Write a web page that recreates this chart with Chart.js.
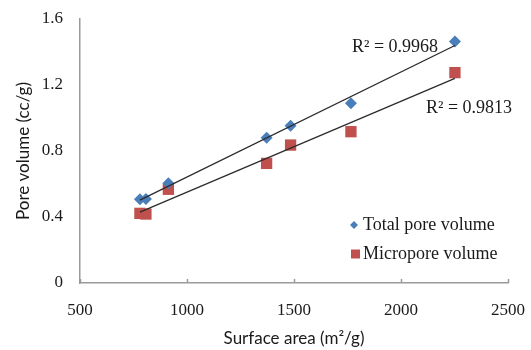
<!DOCTYPE html>
<html><head><meta charset="utf-8">
<script src="https://cdn.jsdelivr.net/npm/chart.js@4/dist/chart.umd.min.js"></script>
<style>html,body{margin:0;padding:0;background:#fff;} #wrap{width:531px;height:350px;position:relative}</style>
</head><body><div id="wrap"><canvas id="c" width="531" height="350"></canvas></div>
<script>
const surfaceArea = [780, 808, 913, 1372, 1484, 1766, 2252];
const totalPoreVolume = [0.507, 0.509, 0.604, 0.881, 0.953, 1.089, 1.463];
const microporeVolume = [0.422, 0.418, 0.568, 0.725, 0.836, 0.917, 1.275];
const seriesNames = ['Total pore volume', 'Micropore volume'];
const r2Labels = ['R\u00B2 = 0.9968', 'R\u00B2 = 0.9813'];
const xTickLabels = ['500', '1000', '1500', '2000', '2500'];
const yTickLabels = ['0', '0.4', '0.8', '1.2', '1.6'];
const xTitle = 'Surface area (m\u00B2/g)';
const yTitle = 'Pore volume (cc/g)';

const BLUE = '#4a7ebb';
const RED = '#c0504d';

function pts(xs, ys) { return xs.map((x, i) => ({ x: x, y: ys[i] })); }
function trend(xs, ys) {
  const n = xs.length;
  const mx = xs.reduce((a, b) => a + b, 0) / n;
  const my = ys.reduce((a, b) => a + b, 0) / n;
  let sxy = 0, sxx = 0;
  for (let i = 0; i < n; i++) { sxy += (xs[i] - mx) * (ys[i] - my); sxx += (xs[i] - mx) ** 2; }
  const b = sxy / sxx, a = my - b * mx;
  const x0 = Math.min(...xs), x1 = Math.max(...xs);
  return [{ x: x0, y: a + b * x0 }, { x: x1, y: a + b * x1 }];
}

const serif = 'Liberation Serif, Times New Roman, serif';
const sans = 'Lato, Carlito, sans-serif';

const overlay = {
  id: 'overlay',
  afterDraw(chart) {
    const ctx = chart.ctx, ca = chart.chartArea, xs = chart.scales.x;
    ctx.save();
    // inward x tick marks
    ctx.strokeStyle = '#9a9a9a'; ctx.lineWidth = 1.5;
    xs.ticks.forEach(t => {
      const px = Math.round(xs.getPixelForValue(t.value)) + 0.5;
      ctx.beginPath(); ctx.moveTo(px, ca.bottom); ctx.lineTo(px, ca.bottom - 4); ctx.stroke();
    });
    // R² labels
    ctx.fillStyle = '#1a1a1a';
    ctx.font = '18px ' + serif;
    ctx.textBaseline = 'middle'; ctx.textAlign = 'left';
    ctx.fillText(r2Labels[0], ca.left + 272, ca.top + 28);
    ctx.fillText(r2Labels[1], ca.left + 346, ca.top + 89);
    // legend
    const lx = ca.right - 154, ly1 = ca.top + 206, ly2 = ca.top + 235;
    ctx.fillStyle = BLUE;
    ctx.beginPath(); ctx.moveTo(lx - 4, ly1); ctx.lineTo(lx, ly1 - 4); ctx.lineTo(lx + 4, ly1); ctx.lineTo(lx, ly1 + 4); ctx.closePath(); ctx.fill();
    ctx.fillStyle = RED;
    ctx.fillRect(lx - 3, ly2 - 4.5, 9, 9);
    ctx.fillStyle = '#1a1a1a';
    ctx.fillText(seriesNames[0], lx + 9, ly1);
    ctx.fillText(seriesNames[1], lx + 9, ly2);
    ctx.restore();
  }
};

new Chart(document.getElementById('c'), {
  type: 'scatter',
  data: {
    datasets: [
      { label: 'trend1', data: trend(surfaceArea, totalPoreVolume), showLine: true, borderColor: '#2b2b2b', borderWidth: 1.3, pointRadius: 0, fill: false },
      { label: 'trend2', data: trend(surfaceArea, microporeVolume), showLine: true, borderColor: '#2b2b2b', borderWidth: 1.3, pointRadius: 0, fill: false },
      { label: seriesNames[0], data: pts(surfaceArea, totalPoreVolume), pointStyle: 'rectRot', pointRadius: 6, backgroundColor: BLUE, borderColor: BLUE, borderWidth: 0 },
      { label: seriesNames[1], data: pts(surfaceArea, microporeVolume), pointStyle: 'rect', pointRadius: 8, backgroundColor: RED, borderColor: RED, borderWidth: 0 }
    ]
  },
  options: {
    responsive: false, animation: false,
    layout: { padding: { left: 0, top: 19, right: 23, bottom: 0 } },
    plugins: { legend: { display: false }, tooltip: { enabled: false } },
    scales: {
      x: {
        type: 'linear', min: 500, max: 2500,
        afterBuildTicks: s => { s.ticks = xTickLabels.map(v => ({ value: +v })); },
        afterFit: s => { s.height = 67; s.paddingLeft = 0; s.paddingRight = 0; },
        ticks: { callback: (v, i) => xTickLabels[i], font: { family: serif, size: 17 }, color: '#1a1a1a', padding: 17, maxRotation: 0, autoSkip: false },
        grid: { drawOnChartArea: false, drawTicks: false },
        border: { color: '#9a9a9a', width: 1.5 },
        title: { display: true, text: xTitle, font: { family: sans, size: 17 }, color: '#1a1a1a', padding: { top: 0, bottom: 1 } }
      },
      y: {
        type: 'linear', min: 0, max: 1.6,
        afterBuildTicks: s => { s.ticks = yTickLabels.map(v => ({ value: +v })); },
        afterFit: s => { s.width = 80; s.paddingTop = 0; s.paddingBottom = 0; },
        ticks: { callback: (v, i) => yTickLabels[i], font: { family: serif, size: 17 }, color: '#1a1a1a', padding: 17, autoSkip: false },
        grid: { drawOnChartArea: false, drawTicks: false },
        border: { color: '#9a9a9a', width: 1.5 },
        title: { display: true, text: yTitle, font: { family: sans, size: 17 }, color: '#1a1a1a', padding: { top: 13, bottom: 0 } }
      }
    }
  },
  plugins: [overlay]
});
</script>
</body></html>
